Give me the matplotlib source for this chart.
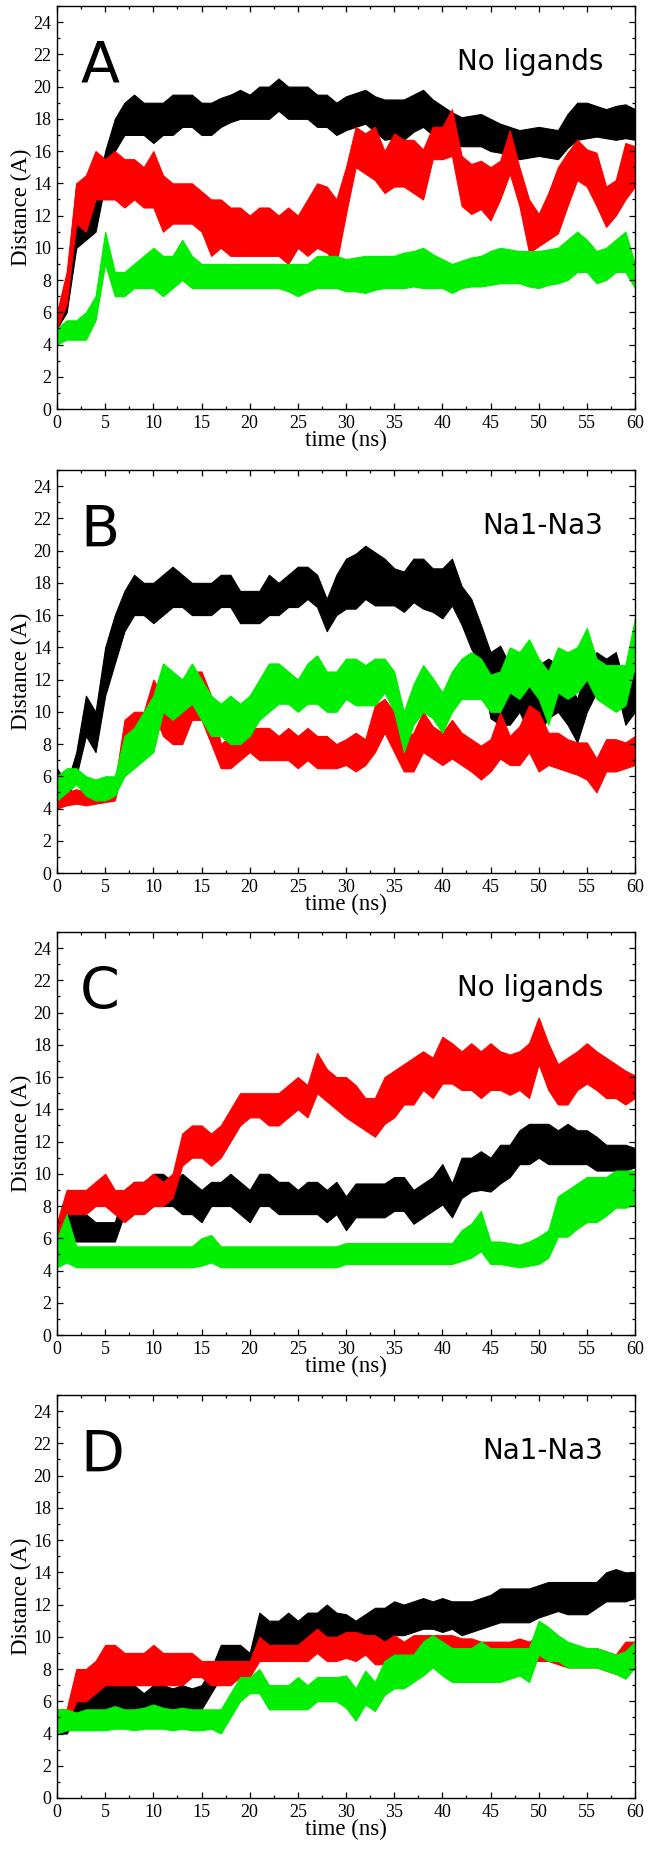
"""Four stacked distance-vs-time panels (A-D) drawn as noisy bands."""

import matplotlib

matplotlib.use("Agg")

import matplotlib.pyplot as plt
import numpy as np
from matplotlib.ticker import MultipleLocator

# time axis, one reading per ns
time_ns = list(range(61))

# --- panel A: No ligands ---
a_black_lo = [5, 6, 10, 10.5, 11, 14, 16, 17, 17, 17, 16.5, 17, 17, 17.5, 17.5, 17, 17, 17.5, 17.8, 18,
              18, 18, 18, 18.5, 18, 18, 18, 17.5, 17.5, 17, 17.3, 17.5, 17.7, 17.2, 16.7, 16.8, 16.7, 17.2, 17.5, 17,
              16.7, 16.5, 16.3, 16.3, 16.3, 16, 15.9, 15.7, 15.5, 15.6, 15.7, 15.6, 15.5, 16.2, 16.7, 16.8, 16.9, 16.8, 16.7, 16.8,
              16.7]
a_black_hi = [6, 8, 14, 13, 13, 16, 18, 19, 19.5, 19, 19, 19, 19.5, 19.5, 19.5, 19, 19, 19.3, 19.5, 19.8,
              19.5, 20, 20, 20.5, 20, 20, 20, 19.5, 19.5, 19, 19.4, 19.6, 19.8, 19.4, 19.2, 19.2, 19.2, 19.5, 19.8, 19.2,
              18.8, 18.4, 18.1, 18.2, 18.3, 18, 17.7, 17.5, 17.3, 17.4, 17.5, 17.4, 17.3, 18.3, 19, 19, 18.8, 18.6, 18.8, 18.9,
              18.6]
a_red_lo = [5, 6.5, 11.5, 11, 13, 13, 13, 12.5, 13, 12.5, 12.5, 11, 11.5, 11.5, 11.5, 11, 9.5, 10, 9.5, 9.5,
            9.5, 9.5, 9.5, 9.5, 9, 10, 9.5, 10, 9.7, 9, 12.1, 15, 14.6, 14.2, 13.4, 13.8, 13.8, 13.4, 13, 15.5,
            15.5, 15.7, 12.6, 12.1, 12.4, 11.7, 13, 14.6, 12.6, 9.7, 10.1, 10.5, 10.9, 12.6, 14.2, 13.8, 12.6, 11.3, 12, 13,
            13.8]
a_red_hi = [6, 8.5, 14, 14.5, 16, 15.5, 16, 15.5, 15.5, 15, 16, 14.5, 14, 14, 14, 13.5, 13, 13, 12.5, 12.5,
            12, 12.5, 12.5, 12, 12.5, 12, 13, 14, 13.8, 13, 15, 17.5, 17.1, 17.5, 16, 17.1, 16.7, 16.7, 16.1, 17.5,
            17.5, 18.6, 15.7, 15.2, 15.4, 15, 15.4, 17.3, 15, 13, 12.1, 13.4, 15, 15.9, 16.7, 16.1, 15.9, 13.8, 14.2, 16.5,
            16.3]
a_green_lo = [4, 4.3, 4.3, 4.3, 5.5, 9, 7, 7, 7.5, 7.5, 7.5, 7, 7.5, 8, 7.5, 7.5, 7.5, 7.5, 7.5, 7.5,
              7.5, 7.5, 7.5, 7.5, 7.3, 7, 7.3, 7.5, 7.5, 7.5, 7.3, 7.3, 7.2, 7.4, 7.5, 7.5, 7.5, 7.6, 7.5, 7.5,
              7.5, 7.2, 7.5, 7.6, 7.6, 7.7, 7.8, 7.8, 7.8, 7.6, 7.5, 7.7, 7.8, 8, 8.5, 8.5, 7.8, 8, 8.5, 8.5,
              7.5]
a_green_hi = [5, 5.5, 5.5, 6, 7, 11, 8.5, 8.5, 9, 9.5, 10, 9.5, 9.5, 10.5, 9.5, 9, 9, 9, 9, 9,
              9, 9, 9, 9, 9, 9, 9, 9.5, 9.5, 9.5, 9.3, 9.4, 9.5, 9.5, 9.5, 9.5, 9.7, 9.8, 10, 9.6,
              9.3, 9, 9.2, 9.4, 9.5, 9.8, 10, 9.9, 9.8, 9.8, 9.8, 9.9, 10, 10.5, 11, 10.5, 9.8, 10, 10.5, 11,
              9]

# --- panel B: Na1-Na3 ---
b_black_lo = [4.5, 4.5, 6, 8.5, 7.5, 11, 13, 15, 16, 16, 15.5, 16, 16.5, 16.5, 16, 16, 16, 16.5, 16.5, 15.5,
              15.5, 15.5, 16, 16, 16.5, 16.5, 17, 16.5, 15, 16, 16.4, 16.4, 17, 16.6, 16.6, 16.6, 16.2, 16.8, 16.4, 16.2,
              15.8, 16.6, 15.4, 13.9, 12.9, 9.6, 9.2, 9.2, 10, 8.7, 8.7, 9.6, 10, 9.2, 8.1, 10, 11.2, 11.2, 11.6, 9.2,
              10]
b_black_hi = [6.5, 5.5, 7.5, 11, 10, 14, 16, 17.5, 18.5, 18, 18, 18.5, 19, 18.5, 18, 18, 18, 18.5, 18.5, 17.5,
              17.5, 17.5, 18.5, 18, 18.5, 19, 19, 18.5, 17, 18.5, 19.5, 19.8, 20.3, 19.9, 19.5, 18.9, 18.7, 19.5, 19.5, 18.9,
              18.9, 19.5, 17.8, 17, 15.4, 13.7, 14.1, 12.9, 12.3, 12, 12.9, 13.3, 12.9, 12, 10.8, 12.9, 13.7, 13.3, 13.7, 11.6,
              12.5]
b_red_lo = [4, 4.2, 4.3, 4.2, 4.3, 4.4, 4.5, 7, 8, 8, 10, 8.5, 8, 8, 9.5, 9.5, 8, 6.5, 6.5, 7,
            7.5, 7, 7, 7, 7, 6.5, 7, 6.5, 6.5, 6.5, 6.7, 6.3, 6.7, 7.5, 8.7, 7.5, 6.3, 6.3, 7.5, 7.1,
            6.7, 7.1, 6.7, 6.3, 5.8, 6.3, 7.1, 6.7, 6.7, 7.5, 6.3, 6.7, 6.5, 6.3, 6.1, 5.8, 5, 6.3, 6.3, 6.5,
            6.7]
b_red_hi = [5, 5, 5.2, 5, 5.2, 5.3, 5.5, 9.5, 10, 10, 12, 11, 10, 11, 12.5, 12.5, 11, 8, 8.5, 8.5,
            9, 9, 9, 8.5, 9, 8.5, 9, 8.5, 8.5, 8, 8.3, 8.7, 8.3, 10.4, 10.8, 10, 8.3, 8.7, 10, 9.1,
            8.7, 9.5, 8.7, 8.3, 7.9, 8.3, 10, 8.5, 9.1, 10.4, 10, 8.7, 8.7, 8.3, 8.1, 8.1, 7.1, 8.3, 8.3, 8.1,
            8.5]
b_green_lo = [4.5, 5, 5.5, 4.8, 4.5, 4.5, 4.8, 6, 6.5, 7, 7.5, 10, 9.5, 10, 10.5, 9.5, 8.5, 8.5, 8, 8,
              8.5, 9.5, 10, 10.5, 10.5, 10, 10.5, 10.5, 10, 10, 10.8, 10.4, 10.4, 10.4, 11.2, 10, 7.5, 9.2, 10, 9.6,
              8.7, 10, 10.8, 10.8, 10.8, 10, 10, 11.2, 10.8, 11.6, 10.8, 9.2, 11.2, 10.8, 11.2, 12, 10.8, 10.4, 10, 10.4,
              12.9]
b_green_hi = [6, 6.5, 6.5, 6, 5.8, 6, 6, 8.5, 9, 10, 11, 13, 12.5, 12, 13, 12, 11, 10.5, 11, 10.5,
              11, 12, 13, 13, 12.5, 12, 13, 13.5, 12.5, 12.5, 13.3, 13.3, 12.9, 13.3, 13.3, 12.5, 10, 11.7, 12.9, 12.1,
              11.2, 12.5, 13.3, 13.7, 13.3, 12.3, 12.5, 14, 13.7, 14.5, 13.3, 12.5, 14, 13.7, 14, 15.2, 13.3, 12.9, 12.9, 12.9,
              15.8]

# --- panel C: No ligands ---
c_black_lo = [5.5, 6, 5.8, 5.8, 5.8, 5.8, 5.8, 7.5, 8, 7.5, 8, 8, 8, 7.5, 7.5, 7, 8, 8, 8, 7.5,
              7, 8, 8, 7.5, 7.5, 7.5, 7.5, 7.5, 7, 7.5, 6.5, 7.3, 7.3, 7.3, 7.3, 7.7, 7.7, 6.9, 7.3, 7.7,
              8.1, 7.3, 8.5, 8.9, 9, 8.9, 9.4, 9.8, 10.6, 10.6, 11, 10.6, 10.6, 10.6, 10.6, 10.6, 10.2, 10.2, 10.2, 10.2,
              10.4]
c_black_hi = [6.5, 7.5, 7.5, 7.5, 7, 7, 7, 9, 9.5, 9.5, 10, 10, 9.5, 10, 9.5, 9, 9.5, 9.5, 10, 9.5,
              9, 10, 10, 9.5, 9.5, 9, 9.5, 9.5, 9, 9.5, 8.6, 9.4, 9.4, 9.4, 9.4, 9.8, 9.8, 9, 9.4, 9.8,
              10.6, 9.4, 11, 11, 11.4, 11, 11.8, 11.8, 12.7, 13.1, 13.1, 13.1, 12.7, 13.1, 12.7, 12.7, 12.3, 11.8, 11.8, 11.8,
              11.6]
c_red_lo = [5.5, 7.5, 7.5, 7.5, 8, 8, 7.5, 7, 7.5, 7.5, 8, 8, 8.5, 10.5, 11, 11, 10.5, 11, 12, 13,
            13.5, 13.5, 13, 13, 13.5, 14, 13.5, 15, 14.5, 14, 13.5, 13.1, 12.7, 12.3, 13.1, 13.5, 14.3, 14.3, 15.2, 14.7,
            15.6, 15.6, 15.2, 15.2, 14.7, 15.2, 15.2, 14.9, 15.2, 14.7, 16.8, 15.2, 14.3, 14.3, 15.2, 15.6, 15.2, 14.7, 14.7, 14.3,
            14.7]
c_red_hi = [7, 9, 9, 9, 9.5, 10, 9, 9, 9.5, 9.5, 10, 9.5, 10, 12.5, 13, 13, 12.5, 13, 14, 15,
            15, 15, 15, 15, 15.5, 16, 15.5, 17.5, 16.5, 16, 16, 15.5, 14.7, 14.7, 16, 16.4, 16.8, 17.2, 17.6, 17.2,
            18.5, 18.1, 17.6, 18.1, 17.6, 18.1, 17.6, 17.4, 17.6, 18.1, 19.7, 18.1, 16.8, 17.2, 17.6, 18.1, 17.6, 17.2, 16.8, 16.4,
            16.1]
c_green_lo = [4.2, 4.5, 4.2, 4.2, 4.2, 4.2, 4.2, 4.2, 4.2, 4.2, 4.2, 4.2, 4.2, 4.2, 4.2, 4.3, 4.5, 4.2, 4.2, 4.2,
              4.2, 4.2, 4.2, 4.2, 4.2, 4.2, 4.2, 4.2, 4.2, 4.2, 4.4, 4.4, 4.4, 4.4, 4.4, 4.4, 4.4, 4.4, 4.4, 4.4,
              4.4, 4.4, 4.6, 4.8, 5.2, 4.4, 4.4, 4.3, 4.2, 4.3, 4.4, 4.8, 6.1, 6.1, 6.6, 7, 7, 7.4, 7.9, 7.9,
              8.1]
c_green_hi = [6, 7.5, 5.5, 5.5, 5.5, 5.5, 5.5, 5.5, 5.5, 5.5, 5.5, 5.5, 5.5, 5.5, 5.5, 6, 6.2, 5.5, 5.5, 5.5,
              5.5, 5.5, 5.5, 5.5, 5.5, 5.5, 5.5, 5.5, 5.5, 5.5, 5.7, 5.7, 5.7, 5.7, 5.7, 5.7, 5.7, 5.7, 5.7, 5.7,
              5.7, 5.7, 6.5, 6.9, 7.7, 5.8, 5.8, 5.7, 5.6, 5.8, 6.1, 6.5, 8.6, 9, 9.4, 9.8, 9.8, 9.8, 10.2, 10.2,
              10.2]

# --- panel D: Na1-Na3 ---
d_black_lo = [4, 4, 5, 5, 5.5, 5.5, 5.5, 5.5, 5.5, 5.5, 5.5, 5.5, 5.5, 5.5, 5.5, 5.5, 6.5, 7.5, 7.5, 8,
              8, 10, 9.5, 9.5, 9.5, 9.5, 9.5, 10, 10, 10, 9.7, 9.5, 9.7, 9.9, 9.7, 10.1, 10.1, 10.3, 10.5, 10.5,
              10.3, 10.5, 10.1, 10.3, 10.5, 10.7, 10.9, 10.9, 10.9, 10.9, 11.2, 11.4, 11.6, 11.4, 11.4, 11.4, 11.8, 12.2, 12.2, 12.2,
              12.4]
d_black_hi = [4.5, 4.5, 6, 6, 7, 7, 7, 7, 7, 6.5, 7, 7, 6.8, 7, 6.8, 7, 8, 9.5, 9.5, 9.5,
              9, 11.5, 11, 11, 11.5, 11, 11.5, 11.5, 12, 11.5, 11.4, 11, 11.4, 11.8, 11.8, 12.2, 12, 12.2, 12.4, 12.2,
              12.4, 12.2, 12.2, 12.2, 12.4, 12.6, 13, 13, 13, 13, 13.2, 13.4, 13.4, 13.4, 13.4, 13.4, 13.4, 14, 14.2, 14,
              14]
d_red_lo = [4, 4.5, 6, 6, 6.5, 7, 7, 7, 7, 7, 7, 7, 7, 7, 7.5, 7.5, 7, 7, 7, 7.5,
            7.5, 8.5, 8.5, 8.5, 8.5, 8.5, 8.5, 9, 8.5, 8.5, 8.7, 8.5, 8.9, 8.3, 8.3, 8.5, 8.5, 8.9, 8.9, 8.7,
            8.7, 8.9, 8.7, 8.9, 8.7, 8.7, 8.7, 8.7, 8.9, 8.5, 8.5, 8.5, 8.3, 8.1, 8.1, 8.1, 8.1, 7.9, 7.7, 8.1,
            8.1]
d_red_hi = [5.5, 5.5, 8, 8, 8.5, 9.5, 9.5, 9, 9, 9, 9.5, 9, 9, 9, 9, 8.5, 8.5, 8.5, 8.5, 8.5,
            8.5, 10, 9.5, 9.5, 9.5, 9.5, 10, 10.5, 10, 10, 10.3, 10.3, 10.1, 10.1, 9.7, 10.1, 9.7, 10.1, 10.1, 10.1,
            10.1, 10.1, 9.9, 9.9, 9.7, 9.7, 9.7, 9.7, 9.9, 9.7, 10.1, 10.1, 9.7, 9.3, 9.3, 9.3, 9.3, 9.1, 8.9, 9.7,
            9.7]
d_green_lo = [4, 4.2, 4.2, 4.2, 4.2, 4.2, 4.3, 4.3, 4.2, 4.3, 4.3, 4.3, 4.2, 4.3, 4.2, 4.2, 4.3, 4, 5, 6,
              6.5, 6.5, 5.5, 5.5, 5.5, 5.5, 5.5, 6, 6, 6, 5.6, 4.8, 5.8, 5.4, 6.4, 6.8, 6.8, 7.2, 7.6, 8.1,
              7.6, 7.2, 7.2, 7.2, 7.2, 7.2, 7.2, 7.4, 7.6, 7.2, 8.9, 8.5, 8.5, 8.1, 8.1, 8.1, 8.1, 7.9, 7.7, 7.4,
              8.1]
d_green_hi = [5.5, 5.5, 5.3, 5.5, 5.5, 5.5, 5.7, 5.5, 5.5, 5.6, 5.8, 5.6, 5.5, 5.6, 5.5, 5.5, 5.5, 5.5, 6.5, 7.5,
              7.5, 8, 7, 7, 7, 7.5, 7, 7.5, 7.5, 7.5, 7.6, 6.8, 7.9, 7.2, 8.5, 8.9, 8.9, 8.9, 9.7, 10.1,
              9.7, 9.3, 9.3, 9.3, 9.7, 9.3, 9.3, 9.3, 9.3, 9.3, 11, 10.6, 10.1, 9.7, 9.5, 9.3, 9.3, 9.1, 8.9, 9.1,
              9.7]

panel_letters = ["A", "B", "C", "D"]
panel_notes = ["No ligands", "Na1-Na3", "No ligands", "Na1-Na3"]
panel_series = [
    [(a_black_lo, a_black_hi), (a_red_lo, a_red_hi), (a_green_lo, a_green_hi)],
    [(b_black_lo, b_black_hi), (b_red_lo, b_red_hi), (b_green_lo, b_green_hi)],
    [(c_black_lo, c_black_hi), (c_red_lo, c_red_hi), (c_green_lo, c_green_hi)],
    [(d_black_lo, d_black_hi), (d_red_lo, d_red_hi), (d_green_lo, d_green_hi)],
]
series_colors = ["#000000", "#ff0000", "#00ee00"]

SERIF = ["Liberation Serif", "DejaVu Serif"]

fig = plt.figure(figsize=(6.52, 18.54), dpi=100)
fig.patch.set_facecolor("white")

# axes rectangles measured in pixels from the top of the figure
W, H = 652.0, 1854.0
axes_tops = [6, 470, 932, 1395]
axes_height = 403
left_px, right_px = 57, 635

t = np.array(time_ns)
for i, top in enumerate(axes_tops):
    ax = fig.add_axes([left_px / W, 1 - (top + axes_height) / H,
                       (right_px - left_px) / W, axes_height / H])
    for (lo, hi), color in zip(panel_series[i], series_colors):
        ax.fill_between(t, lo, hi, color=color, linewidth=0.8, edgecolor=color)

    ax.set_xlim(0, 60)
    ax.set_ylim(0, 25)
    ax.xaxis.set_major_locator(MultipleLocator(5))
    ax.xaxis.set_minor_locator(MultipleLocator(2.5))
    ax.yaxis.set_major_locator(MultipleLocator(2))
    ax.yaxis.set_minor_locator(MultipleLocator(1))
    ax.tick_params(which="both", direction="in", top=True, right=True, width=0.9)
    ax.tick_params(which="major", length=4.5, labelsize=13, pad=4)
    ax.tick_params(which="minor", length=2.4)
    for lbl in ax.get_xticklabels() + ax.get_yticklabels():
        lbl.set_family(SERIF)
    for spine in ax.spines.values():
        spine.set_linewidth(1.0)

    ax.set_xlabel("time (ns)", family=SERIF, fontsize=16.5, labelpad=-1)
    ax.set_ylabel("Distance (A)", family=SERIF, fontsize=16.5, labelpad=1)

    ax.text(0.04, 0.81, panel_letters[i], transform=ax.transAxes, family="DejaVu Sans",
            fontsize=41, ha="left", va="baseline")
    ax.text(0.945, 0.84, panel_notes[i], transform=ax.transAxes, family="DejaVu Sans",
            fontsize=20, ha="right", va="baseline")

fig.savefig("out.png", dpi=100)
